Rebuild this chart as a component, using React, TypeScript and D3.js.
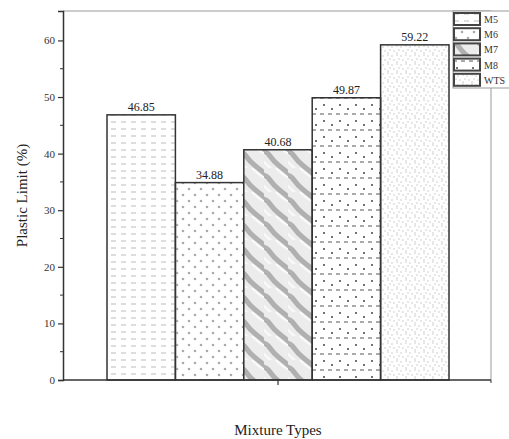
import React, { useEffect, useRef } from "react";
import * as d3 from "d3";

const mixtures = ["M5", "M6", "M7", "M8", "WTS"];
const plasticLimit = [46.85, 34.88, 40.68, 49.87, 59.22];
const yTicks = [0, 10, 20, 30, 40, 50, 60];

const width = 509;
const height = 439;
const margin = { top: 11, right: 18, bottom: 59, left: 63 };

export default function App() {
  const ref = useRef<SVGSVGElement>(null);

  useEffect(() => {
    const svg = d3.select(ref.current);
    svg.selectAll("*").remove();

    const defs = svg.append("defs");

    // M5: short horizontal dashes
    const p5 = defs.append("pattern").attr("id", "pM5").attr("patternUnits", "userSpaceOnUse")
      .attr("width", 10).attr("height", 7);
    p5.append("line").attr("x1", 1).attr("x2", 6).attr("y1", 3).attr("y2", 3)
      .attr("stroke", "#aaa").attr("stroke-width", 0.8);

    // M6: dots
    const p6 = defs.append("pattern").attr("id", "pM6").attr("patternUnits", "userSpaceOnUse")
      .attr("width", 12).attr("height", 12);
    p6.append("circle").attr("cx", 3).attr("cy", 3).attr("r", 1.3).attr("fill", "#aaa");
    p6.append("circle").attr("cx", 9).attr("cy", 9).attr("r", 1.3).attr("fill", "#aaa");

    // M7: grey wavy diagonals
    const p7 = defs.append("pattern").attr("id", "pM7").attr("patternUnits", "userSpaceOnUse")
      .attr("width", 24).attr("height", 24);
    p7.append("rect").attr("width", 24).attr("height", 24).attr("fill", "#ececec");
    p7.append("path").attr("d", "M-6,6 Q2,6 6,12 T18,24 T30,36 M-6,-18 Q2,-18 6,-12 T18,0 T30,12")
      .attr("fill", "none").attr("stroke", "#b0b0b0").attr("stroke-width", 5);
    p7.append("path").attr("d", "M6,-6 Q12,0 16,4 T30,12 M-6,12 Q0,18 4,22 T18,30")
      .attr("fill", "none").attr("stroke", "#fafafa").attr("stroke-width", 2);

    // M8: dashed rows with dots
    const p8 = defs.append("pattern").attr("id", "pM8").attr("patternUnits", "userSpaceOnUse")
      .attr("width", 16).attr("height", 16);
    p8.append("line").attr("x1", 0).attr("x2", 4).attr("y1", 2).attr("y2", 2)
      .attr("stroke", "#555").attr("stroke-width", 1);
    p8.append("line").attr("x1", 8).attr("x2", 12).attr("y1", 2).attr("y2", 2)
      .attr("stroke", "#555").attr("stroke-width", 1);
    p8.append("circle").attr("cx", 4).attr("cy", 9).attr("r", 1).attr("fill", "#444");
    p8.append("circle").attr("cx", 12).attr("cy", 13).attr("r", 1).attr("fill", "#444");

    // WTS: fine speckle
    const pw = defs.append("pattern").attr("id", "pWTS").attr("patternUnits", "userSpaceOnUse")
      .attr("width", 9).attr("height", 9);
    [[1, 1], [5, 2], [3, 5], [7, 6], [1, 8]].forEach(([cx, cy]) => {
      pw.append("circle").attr("cx", cx).attr("cy", cy).attr("r", 0.7).attr("fill", "#bbb");
    });

    const x = d3.scaleBand().domain(mixtures)
      .range([107, 449]).padding(0);
    const y = d3.scaleLinear().domain([0, 65.2]).range([height - margin.bottom, margin.top]);

    const x0 = margin.left;
    const x1 = width - margin.right;
    const font = "'Liberation Serif', 'Times New Roman', serif";

    // frame top and right
    svg.append("path")
      .attr("d", `M${x0},${y(65.2)}H${x1}V${y(0)}`)
      .attr("fill", "none").attr("stroke", "#999").attr("stroke-width", 1);

    // bars
    svg.selectAll("rect.bar").data(mixtures).enter().append("rect")
      .attr("class", "bar")
      .attr("x", d => x(d)!)
      .attr("y", (d, i) => y(plasticLimit[i]))
      .attr("width", x.bandwidth())
      .attr("height", (d, i) => y(0) - y(plasticLimit[i]))
      .attr("fill", d => `url(#p${d})`)
      .attr("stroke", "#333").attr("stroke-width", 1.5);

    svg.selectAll("text.val").data(mixtures).enter().append("text")
      .attr("class", "val")
      .attr("x", d => x(d)! + x.bandwidth() / 2)
      .attr("y", (d, i) => y(plasticLimit[i]) - 4)
      .attr("text-anchor", "middle")
      .style("font-family", font).attr("font-size", 12).attr("fill", "#222")
      .text((d, i) => plasticLimit[i].toFixed(2));

    // y axis
    const yAxis = d3.axisLeft(y).tickValues(yTicks).tickSize(5).tickPadding(3);
    const gy = svg.append("g").attr("transform", `translate(${x0},0)`).call(yAxis);
    gy.attr("font-family", null);
    gy.select(".domain").attr("stroke", "#333").attr("stroke-width", 1.5);
    gy.selectAll(".tick line").attr("stroke", "#333").attr("stroke-width", 1.2);
    gy.selectAll(".tick text").style("font-family", font).attr("font-size", 11).attr("fill", "#333");
    const minor = d3.range(5, 65, 10);
    gy.selectAll("line.minor").data(minor).enter().append("line")
      .attr("x1", -3).attr("x2", 0).attr("y1", d => y(d)).attr("y2", d => y(d))
      .attr("stroke", "#333").attr("stroke-width", 1);

    // x axis
    svg.append("line").attr("x1", x0).attr("x2", x1).attr("y1", y(0)).attr("y2", y(0))
      .attr("stroke", "#333").attr("stroke-width", 1.5);
    const xc = x("M7")! + x.bandwidth() / 2;
    svg.append("line").attr("x1", xc).attr("x2", xc).attr("y1", y(0)).attr("y2", y(0) + 5)
      .attr("stroke", "#333").attr("stroke-width", 1.2);
    svg.append("line").attr("x1", x1).attr("x2", x1).attr("y1", y(0)).attr("y2", y(0) + 3)
      .attr("stroke", "#333").attr("stroke-width", 1);

    // axis titles
    svg.append("text")
      .attr("transform", `translate(27,${(y(0) + y(65.2)) / 2}) rotate(-90)`)
      .attr("text-anchor", "middle")
      .style("font-family", font).attr("font-size", 15).attr("fill", "#222")
      .text("Plastic Limit (%)");
    svg.append("text")
      .attr("x", xc).attr("y", 435)
      .attr("text-anchor", "middle")
      .style("font-family", font).attr("font-size", 15).attr("fill", "#222")
      .text("Mixture Types");

    // legend
    const lg = svg.append("g").attr("transform", "translate(453,11)");
    lg.append("rect").attr("x", 0).attr("y", 0).attr("width", 60).attr("height", 77)
      .attr("fill", "white").attr("stroke", "#999").attr("stroke-width", 1);
    mixtures.forEach((m, i) => {
      lg.append("rect").attr("x", 1).attr("y", 2 + i * 15.2).attr("width", 26).attr("height", 12)
        .attr("fill", `url(#p${m})`).attr("stroke", "#444").attr("stroke-width", 2);
      lg.append("text").attr("x", 31).attr("y", 12 + i * 15.2)
        .style("font-family", font).attr("font-size", 10).attr("fill", "#333")
        .text(m);
    });
  }, []);

  return (
    <svg ref={ref} width={width} height={height}
      style={{ position: "absolute", left: 0, top: 0, background: "white" }} />
  );
}
